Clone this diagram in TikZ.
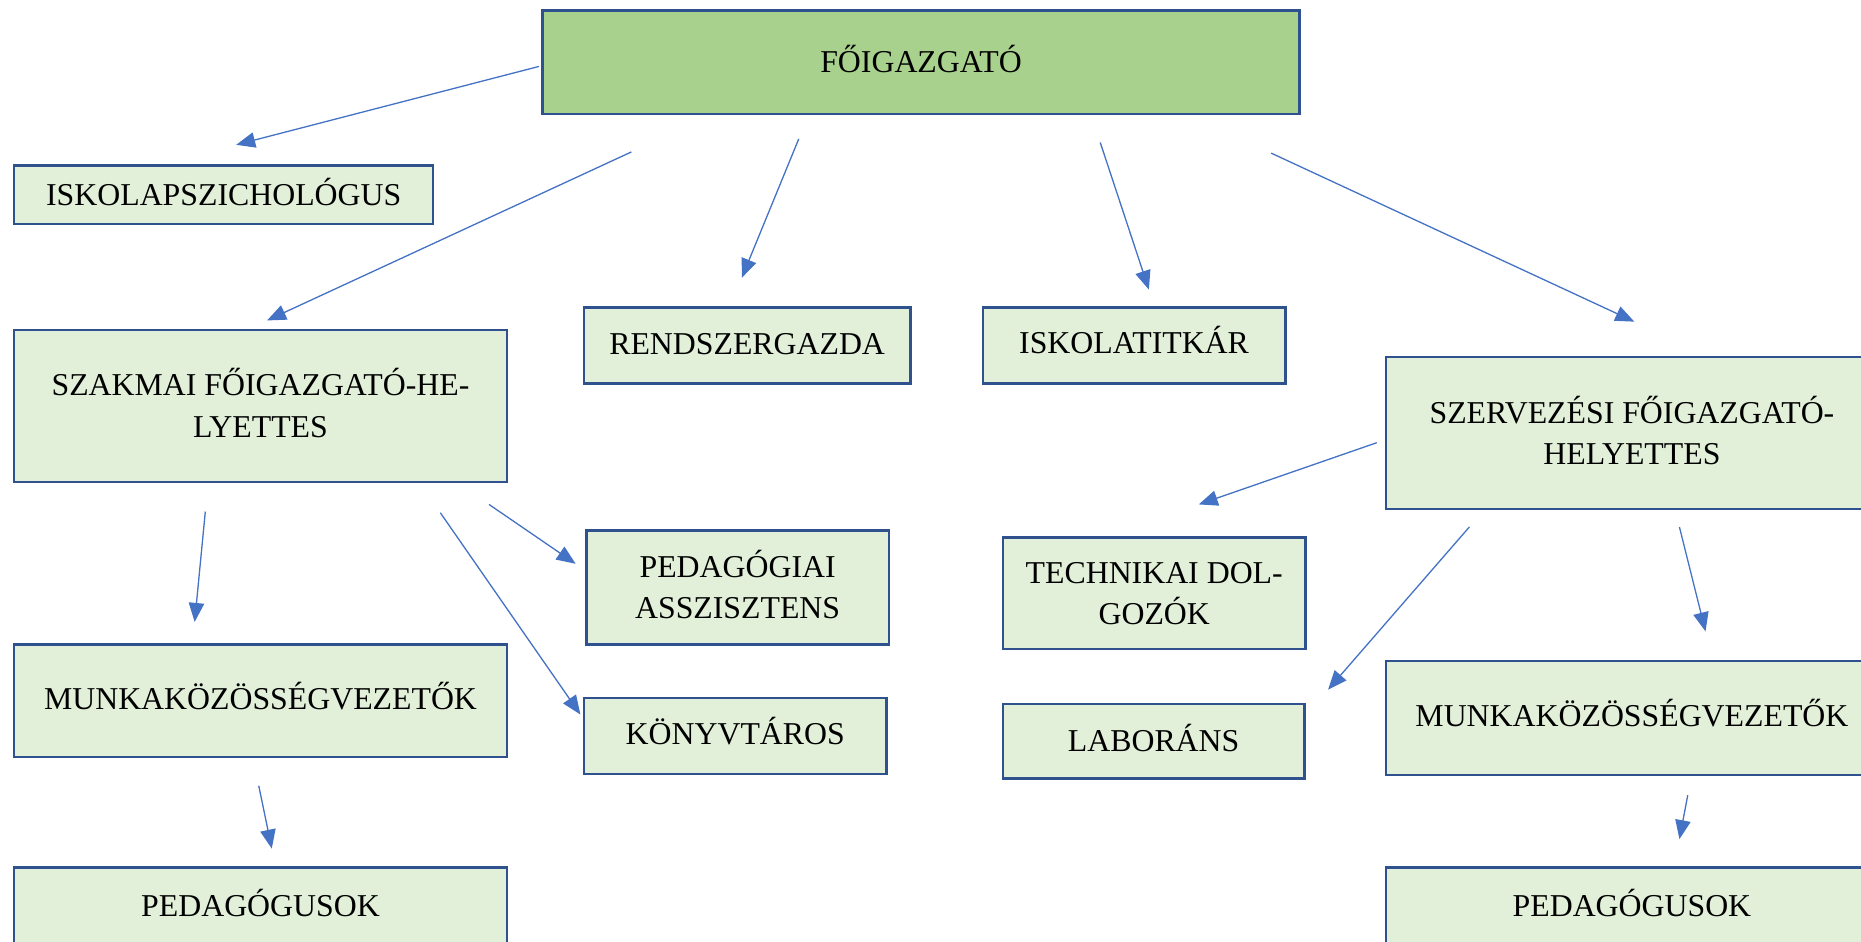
\documentclass[tikz,border=0pt]{standalone}
\usepackage{fontspec}
\setmainfont{Liberation Serif}
\usetikzlibrary{arrows.meta}
\definecolor{boxline}{HTML}{2F528F}
\definecolor{boxfill}{HTML}{E2F0D9}
\definecolor{topfill}{HTML}{A9D18E}
\definecolor{arrowc}{HTML}{4472C4}
\begin{document}
\begin{tikzpicture}[x=1pt,y=-1pt,
  box/.style={draw=boxline, fill=boxfill, line width=2pt, inner sep=0pt, align=center,
    font=\fontsize{26.8}{35}\selectfont, text height=18pt, text depth=0pt},
  boxtwo/.style={box, text height=53pt, text depth=0pt},
  arr/.style={draw=arrowc, line width=1.1pt, -{Triangle[length=16pt,width=13pt]}}]
\useasboundingbox (0,0) rectangle (1568,793);
\clip (0,0) rectangle (1568,793);
% nodes
\node[box, fill=topfill, minimum width=638pt, minimum height=87pt] (top) at (776,52.5) {FŐIGAZGATÓ};
\node[box, minimum width=353pt, minimum height=49pt] (psy) at (188.5,164) {ISKOLAPSZICHOLÓGUS};
\node[boxtwo, minimum width=415pt, minimum height=128pt] (szak) at (219.5,342) {SZAKMAI FŐIGAZGATÓ-HE-\\LYETTES};
\node[box, text depth=3pt, minimum width=275pt, minimum height=64pt] (rend) at (629.5,291) {RENDSZERGAZDA};
\node[box, text depth=5pt, minimum width=255pt, minimum height=64pt] (titk) at (955.5,291) {ISKOLATITKÁR};
\node[boxtwo, minimum width=414pt, minimum height=128pt] (szerv) at (1375,365) {SZERVEZÉSI FŐIGAZGATÓ-\\HELYETTES};
\node[boxtwo, minimum width=255pt, minimum height=96pt] (pedasz) at (621.5,495) {PEDAGÓGIAI\\ASSZISZTENS};
\node[box, text depth=3pt, minimum width=255pt, minimum height=64pt] (konyv) at (619.5,620) {KÖNYVTÁROS};
\node[boxtwo, minimum width=255pt, minimum height=94pt] (tech) at (972.5,500) {TECHNIKAI DOL-\\GOZÓK};
\node[box, minimum width=254pt, minimum height=63pt] (labor) at (972,624.5) {LABORÁNS};
\node[box, text depth=4pt, minimum width=415pt, minimum height=95pt] (munkaL) at (219.5,590.5) {MUNKAKÖZÖSSÉGVEZETŐK};
\node[box, text depth=4pt, minimum width=414pt, minimum height=96pt] (munkaR) at (1375,605) {MUNKAKÖZÖSSÉGVEZETŐK};
\node[box, minimum width=415pt, minimum height=64pt] (pedL) at (219.5,763) {PEDAGÓGUSOK};
\node[box, minimum width=414pt, minimum height=64pt] (pedR) at (1375,763) {PEDAGÓGUSOK};
% connector end points
\coordinate (a1) at (454,56);   \coordinate (a2) at (199,122);
\coordinate (b1) at (532,128);  \coordinate (b2) at (225,270);
\coordinate (c1) at (673,117);  \coordinate (c2) at (625,234);
\coordinate (d1) at (927,120);  \coordinate (d2) at (968,244);
\coordinate (e1) at (1071,129); \coordinate (e2) at (1377,271);
\coordinate (f1) at (173,431);  \coordinate (f2) at (164,524);
\coordinate (g1) at (412,425);  \coordinate (g2) at (485,475);
\coordinate (h1) at (371,432);  \coordinate (h2) at (489,602);
\coordinate (i1) at (218,662);  \coordinate (i2) at (229,715);
\coordinate (j1) at (1160,373); \coordinate (j2) at (1010,425);
\coordinate (k1) at (1238,444); \coordinate (k2) at (1119,581);
\coordinate (l1) at (1415,444); \coordinate (l2) at (1437,532);
\coordinate (m1) at (1422,670); \coordinate (m2) at (1415,707);
% connectors
\draw[arr] (a1) -- (a2);
\draw[arr] (b1) -- (b2);
\draw[arr] (c1) -- (c2);
\draw[arr] (d1) -- (d2);
\draw[arr] (e1) -- (e2);
\draw[arr] (f1) -- (f2);
\draw[arr] (g1) -- (g2);
\draw[arr] (h1) -- (h2);
\draw[arr] (i1) -- (i2);
\draw[arr] (j1) -- (j2);
\draw[arr] (k1) -- (k2);
\draw[arr] (l1) -- (l2);
\draw[arr] (m1) -- (m2);
\end{tikzpicture}
\end{document}
